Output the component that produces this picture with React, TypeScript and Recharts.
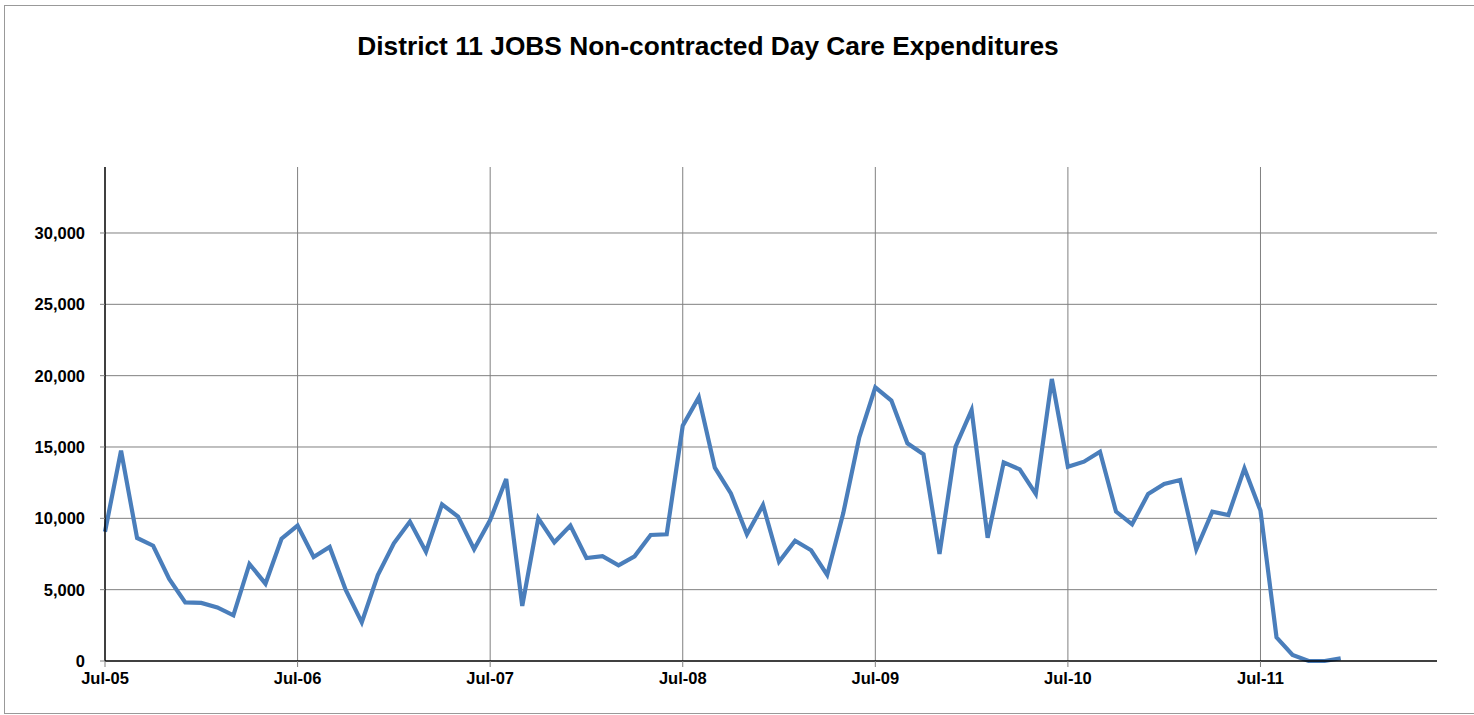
import React from 'react';
import { LineChart, Line, XAxis, YAxis, CartesianGrid } from 'recharts';

// monthly expenditures, Jul-05 .. Dec-11
const values = [
  9060, 14740, 8620, 8080, 5750, 4110, 4070, 3760, 3200, 6800, 5420, 8570,
  9490, 7290, 7990, 4980, 2710, 6030, 8250, 9770, 7660, 10980, 10120, 7830,
  9880, 12760, 3860, 10000, 8320, 9490, 7220, 7340, 6710, 7340, 8830, 8880,
  16490, 18480, 13550, 11750, 8880, 10930, 6960, 8430, 7760, 6030, 10350, 15680,
  19180, 18250, 15260, 14490, 7500, 15020, 17590, 8640, 13920, 13430, 11710, 19770,
  13620, 13970, 14670, 10470, 9580, 11710, 12410, 12690, 7830, 10470, 10230, 13500,
  10540, 1660, 420, 0, 0, 190,
];

const tickLabels = ['Jul-05', 'Jul-06', 'Jul-07', 'Jul-08', 'Jul-09', 'Jul-10', 'Jul-11'];
const xTicks = [0, 12, 24, 36, 48, 60, 72];
const yTicks = [0, 5000, 10000, 15000, 20000, 25000, 30000];
const xMax = 83;
const yMax = 34625;

const data = values.map((v, i) => ({ idx: i, amount: v }));

const font = '"Liberation Sans", Arial, sans-serif';
const tickStyle = { fontFamily: font, fontSize: 16.5, fontWeight: 700, fill: '#000' };

// grid only at the tick values (no frame on top / right)
const hLines = ({ offset }: any) =>
  yTicks.filter((t) => t > 0).map((t) => offset.top + offset.height * (1 - t / yMax));
const vLines = ({ offset }: any) =>
  xTicks.filter((t) => t > 0).map((t) => offset.left + (offset.width * t) / xMax);

export default function App() {
  return (
    <div style={{ position: 'absolute', left: 0, top: 0, width: 1474, height: 715, overflow: 'hidden', background: '#fff' }}>
      <div
        style={{
          position: 'absolute',
          left: 4,
          top: 5,
          width: 1480,
          height: 707,
          border: '1px solid #999',
        }}
      />
      <div
        style={{
          position: 'absolute',
          left: 0,
          top: 33,
          width: 1416,
          textAlign: 'center',
          fontFamily: font,
          fontWeight: 700,
          fontSize: 26.3,
          lineHeight: '26px',
          color: '#000',
        }}
      >
        District 11 JOBS Non-contracted Day Care Expenditures
      </div>
      <div style={{ position: 'absolute', left: 0, top: 0 }}>
        <LineChart
          width={1474}
          height={715}
          data={data}
          margin={{ top: 167, right: 37, bottom: 24, left: 45 }}
        >
          <CartesianGrid
            stroke="#808080"
            strokeWidth={1}
            horizontalCoordinatesGenerator={hLines}
            verticalCoordinatesGenerator={vLines}
          />
          <XAxis
            type="number"
            dataKey="idx"
            domain={[0, xMax]}
            ticks={xTicks}
            tickFormatter={(v: number) => tickLabels[xTicks.indexOf(v)] ?? ''}
            height={30}
            tick={tickStyle}
            tickSize={6}
            tickMargin={5}
            axisLine={{ stroke: '#000', strokeWidth: 1.5 }}
            tickLine={{ stroke: '#808080' }}
            interval={0}
          />
          <YAxis
            type="number"
            domain={[0, yMax]}
            ticks={yTicks}
            tickFormatter={(v: number) => v.toLocaleString('en-US')}
            width={60}
            tick={tickStyle}
            tickSize={5}
            tickMargin={15}
            axisLine={{ stroke: '#000', strokeWidth: 1.5 }}
            tickLine={{ stroke: '#808080' }}
            interval={0}
          />
          <Line
            type="linear"
            dataKey="amount"
            stroke="#4a7ebb"
            strokeWidth={4.2}
            dot={false}
            isAnimationActive={false}
          />
        </LineChart>
      </div>
    </div>
  );
}
